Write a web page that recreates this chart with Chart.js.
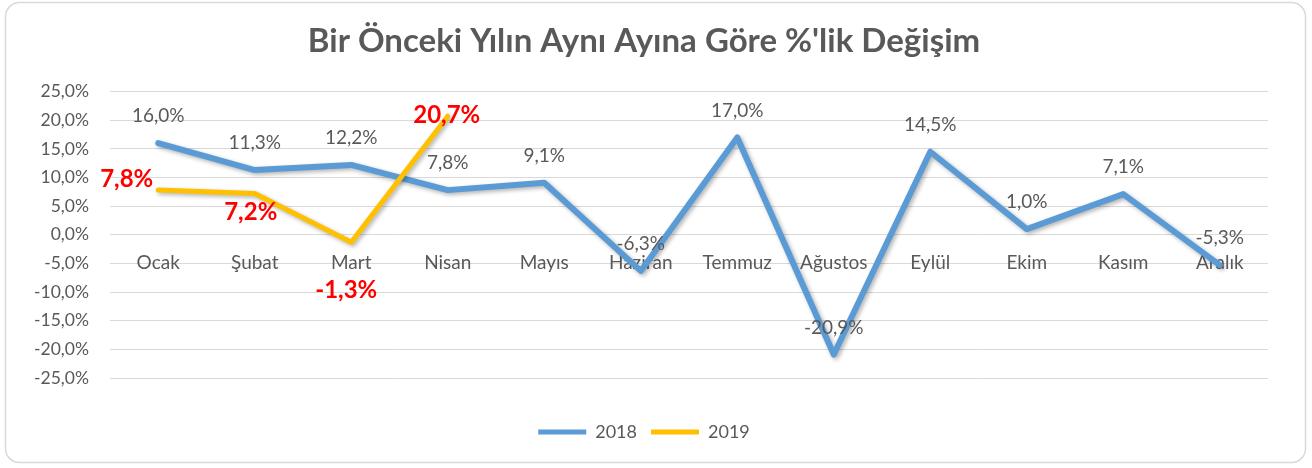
<!DOCTYPE html>
<html>
<head>
<meta charset="utf-8">
<script src="https://cdn.jsdelivr.net/npm/chart.js@4/dist/chart.umd.min.js"></script>
<style>
html,body{margin:0;padding:0;background:#fff;}
#wrap{width:1312px;height:468px;position:relative;}
</style>
</head>
<body>
<div id="wrap"><canvas id="c" width="1312" height="468"></canvas></div>
<script>
const titleText = "Bir Önceki Yılın Aynı Ayına Göre %'lik Değişim";
const months = ["Ocak","Şubat","Mart","Nisan","Mayıs","Haziran","Temmuz","Ağustos","Eylül","Ekim","Kasım","Aralık"];
const values2018 = [16.0, 11.3, 12.2, 7.8, 9.1, -6.3, 17.0, -20.9, 14.5, 1.0, 7.1, -5.3];
const values2019 = [7.8, 7.2, -1.3, 20.7, null, null, null, null, null, null, null, null];
const seriesNames = ["2018", "2019"];
const yMin = -25, yMax = 25, yStep = 5;

const FONT = "Lato, 'Open Sans', sans-serif";
const GREY = "#595959";

function fmt(v){ return v.toFixed(1).replace('.', ',') + '%'; }

// label placement offsets (dx, dy, align) per dataset/point
const labelPlacement = {
  0: { dx: 0, dy: -27, align: 'center', color: GREY, font: "19px " + FONT },
  1: { perPoint: [[-5,-11,'right'],[-4,19,'center'],[-5,48,'center'],[-1,-1,'center']],
       color: "#FF0000", font: "bold 24px " + FONT }
};

const frame = {
  id: 'frame',
  beforeDraw(chart){
    const ctx = chart.ctx;
    ctx.save();
    ctx.fillStyle = '#fff';
    ctx.fillRect(0,0,chart.width,chart.height);
    ctx.strokeStyle = '#d9d9d9';
    ctx.lineWidth = 1.5;
    ctx.beginPath();
    ctx.roundRect(5.5, 2.5, 1300, 460, 14);
    ctx.stroke();
    ctx.restore();
  }
};

const shadow = {
  id: 'shadow',
  beforeDatasetDraw(chart){
    const ctx = chart.ctx;
    ctx.save();
    ctx.shadowColor = 'rgba(0,0,0,0.30)';
    ctx.shadowBlur = 4;
    ctx.shadowOffsetX = 2;
    ctx.shadowOffsetY = 2;
  },
  afterDatasetDraw(chart){
    chart.ctx.restore();
  }
};

const dataLabels = {
  id: 'dataLabels',
  afterDatasetsDraw(chart){
    const ctx = chart.ctx;
    chart.data.datasets.forEach((ds, di) => {
      const meta = chart.getDatasetMeta(di);
      const pl = labelPlacement[di];
      ctx.save();
      ctx.fillStyle = pl.color;
      ctx.font = pl.font;
      ctx.textBaseline = 'middle';
      meta.data.forEach((pt, i) => {
        const v = ds.data[i];
        if (v === null || v === undefined) return;
        let dx = pl.dx, dy = pl.dy, al = pl.align;
        if (pl.perPoint) { [dx, dy, al] = pl.perPoint[i]; }
        ctx.textAlign = al;
        ctx.fillText(fmt(v), pt.x + dx, pt.y + dy);
      });
      ctx.restore();
    });
  }
};

new Chart(document.getElementById('c'), {
  type: 'line',
  data: {
    labels: months,
    datasets: [
      { label: seriesNames[0], data: values2018, borderColor: '#5B9BD5', backgroundColor: '#5B9BD5',
        borderWidth: 6, pointRadius: 0, tension: 0, borderCapStyle: 'round', borderJoinStyle: 'round', order: 1 },
      { label: seriesNames[1], data: values2019, borderColor: '#FFC000', backgroundColor: '#FFC000',
        borderWidth: 5, pointRadius: 0, tension: 0, borderCapStyle: 'round', borderJoinStyle: 'round', order: 0, spanGaps: false }
    ]
  },
  options: {
    responsive: false,
    animation: false,
    devicePixelRatio: 1,
    layout: { padding: { left: 20, right: 44, top: 0, bottom: 17 } },
    plugins: {
      title: { display: true, text: titleText, color: GREY,
        font: { family: FONT, size: 33, weight: 'bold' }, padding: { top: 22, bottom: 30 } },
      legend: { position: 'bottom',
        labels: { color: GREY, font: { family: FONT, size: 18 }, boxWidth: 48, boxHeight: 5,
          useBorderRadius: true, borderRadius: 2.5, padding: 14,
          generateLabels(chart){
            return chart.data.datasets.map((d, i) => ({
              text: d.label, fillStyle: d.borderColor, strokeStyle: d.borderColor, lineWidth: 0,
              fontColor: GREY, datasetIndex: i, hidden: false
            }));
          }
        } },
      tooltip: { enabled: false }
    },
    scales: {
      x: {
        position: { y: 0 },
        offset: true,
        grid: { display: false, offset: true },
        border: { display: false },
        ticks: { color: GREY, font: { family: FONT, size: 19 }, padding: 9, maxRotation: 0, autoSkip: false }
      },
      spacer: {
        type: 'linear', position: 'bottom', display: true,
        grid: { display: false }, border: { display: false }, ticks: { display: false },
        afterFit(s){ s.height = 31; }
      },
      y: {
        min: yMin, max: yMax,
        grid: { color: '#d9d9d9', lineWidth: 1, drawTicks: false },
        border: { display: false },
        ticks: { stepSize: yStep, color: GREY, font: { family: FONT, size: 17.5 }, padding: 21,
          callback: v => fmt(v) },
        afterFit(s){ s.width = 90; }
      }
    }
  },
  plugins: [frame, shadow, dataLabels]
});
</script>
</body>
</html>
